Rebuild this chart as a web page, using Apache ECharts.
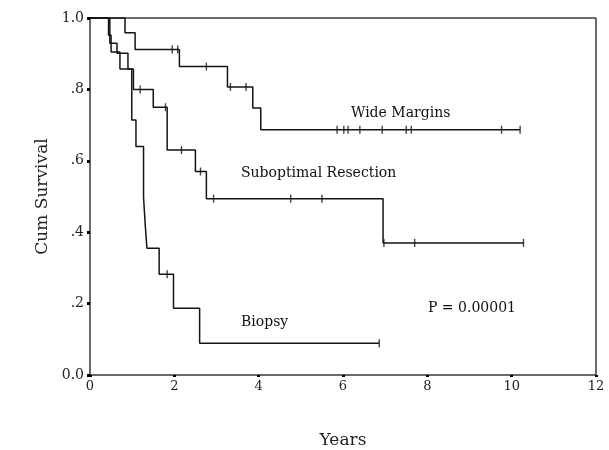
<!DOCTYPE html>
<html>
<head>
<meta charset="utf-8">
<script src="https://cdn.jsdelivr.net/npm/echarts@6/dist/echarts.min.js"></script>
<style>
  html, body { margin: 0; padding: 0; background: #fff; }
  #chart { width: 609px; height: 450px; }
</style>
</head>
<body>
<div id="chart"></div>
<script>
// step times (years) and survival right after each step
var wideTimes = [0, 0.83, 1.07, 2.12, 3.26, 3.86, 4.05];
var wideSurv  = [1.0, 0.959, 0.912, 0.864, 0.807, 0.748, 0.687];
var wideCensor = [1.95, 2.08, 2.76, 3.33, 3.7, 5.86, 6.02, 6.12, 6.4, 6.93, 7.5, 7.62, 9.76, 10.2];
var wideEnd = 10.2;

var subTimes = [0, 0.47, 0.64, 0.9, 1.03, 1.5, 1.83, 2.5, 2.76, 6.95];
var subSurv  = [1.0, 0.929, 0.901, 0.857, 0.80, 0.75, 0.63, 0.57, 0.494, 0.37];
var subCensor = [1.19, 1.79, 2.17, 2.62, 2.93, 4.76, 5.5, 6.97, 7.7, 10.28];
var subEnd = 10.28;

var bioTimes = [0, 0.44, 0.5, 0.71, 0.99, 1.09, 1.27, 1.31, 1.35, 1.64, 1.98, 2.6];
var bioSurv  = [1.0, 0.952, 0.905, 0.857, 0.714, 0.64, 0.497, 0.42, 0.355, 0.282, 0.187, 0.089];
var bioCensor = [1.83, 6.86];
var bioEnd = 6.86;

var yLabels = {'0': '0.0', '0.2': '.2', '0.4': '.4', '0.6': '.6', '0.8': '.8', '1': '1.0'};

function stepData(times, surv, end) {
    var d = times.map(function(t, i) { return [t, surv[i]]; });
    d.push([end, surv[surv.length - 1]]);
    return d;
}
function censorData(times, surv, cens) {
    return cens.map(function(c) {
        var s = surv[0];
        for (var i = 0; i < times.length; i++) { if (times[i] <= c) s = surv[i]; }
        return [c, s];
    });
}

var font = 'DejaVu Serif';
var lineCol = '#141414';
var txt = '14px "DejaVu Serif"';

function curve(name, times, surv, end) {
    return {
        name: name, type: 'line', step: 'end', showSymbol: false,
        lineStyle: { color: lineCol, width: 1.5 },
        data: stepData(times, surv, end), animation: false
    };
}
function marks(name, times, surv, cens) {
    return {
        name: name, type: 'scatter', symbol: 'rect', symbolSize: [1.4, 8],
        itemStyle: { color: lineCol },
        data: censorData(times, surv, cens), animation: false
    };
}

var chart = echarts.init(document.getElementById('chart'));
var option = {
    backgroundColor: '#fff',
    animation: false,
    grid: { left: 90, right: 13, top: 18, bottom: 75, outerBoundsMode: 'none', containLabel: false },
    xAxis: {
        type: 'value', min: 0, max: 12, interval: 2,
        axisLine: { lineStyle: { color: '#3a3a3a', width: 1.5 } },
        axisTick: { show: true, length: 2, lineStyle: { color: '#000', width: 3 } },
        splitLine: { show: false },
        axisLabel: { color: '#222', fontFamily: font, fontSize: 13, margin: 5 },
        name: 'Years', nameLocation: 'middle', nameGap: 57,
        nameTextStyle: { color: '#222', fontFamily: font, fontSize: 17 }
    },
    yAxis: {
        type: 'value', min: 0, max: 1, interval: 0.2,
        axisLine: { lineStyle: { color: '#3a3a3a', width: 1.5 } },
        axisTick: { show: true, length: 3, lineStyle: { color: '#000', width: 3 } },
        splitLine: { show: false },
        axisLabel: {
            color: '#222', fontFamily: font, fontSize: 14, margin: 6,
            formatter: function(v) { return yLabels[String(+v.toFixed(1))] || ''; }
        },
        name: 'Cum Survival', nameLocation: 'middle', nameGap: 36, nameRotate: 90,
        nameTextStyle: { color: '#222', fontFamily: font, fontSize: 17 }
    },
    graphic: [
        // frame top and right
        { type: 'line', shape: { x1: 90, y1: 18, x2: 596, y2: 18 }, style: { stroke: '#3a3a3a', lineWidth: 1.5 } },
        { type: 'line', shape: { x1: 596, y1: 18, x2: 596, y2: 375 }, style: { stroke: '#3a3a3a', lineWidth: 1.5 } },
        { type: 'text', left: 351, top: 106, style: { text: 'Wide Margins', font: txt, fill: '#111' } },
        { type: 'text', left: 241, top: 166, style: { text: 'Suboptimal Resection', font: txt, fill: '#111' } },
        { type: 'text', left: 241, top: 315, style: { text: 'Biopsy', font: txt, fill: '#111' } },
        { type: 'text', left: 428, top: 301, style: { text: 'P = 0.00001', font: txt, fill: '#111' } }
    ],
    series: [
        curve('Wide Margins', wideTimes, wideSurv, wideEnd),
        marks('Wide Margins censored', wideTimes, wideSurv, wideCensor),
        curve('Suboptimal Resection', subTimes, subSurv, subEnd),
        marks('Suboptimal censored', subTimes, subSurv, subCensor),
        curve('Biopsy', bioTimes, bioSurv, bioEnd),
        marks('Biopsy censored', bioTimes, bioSurv, bioCensor)
    ]
};
chart.setOption(option);
</script>
</body>
</html>
